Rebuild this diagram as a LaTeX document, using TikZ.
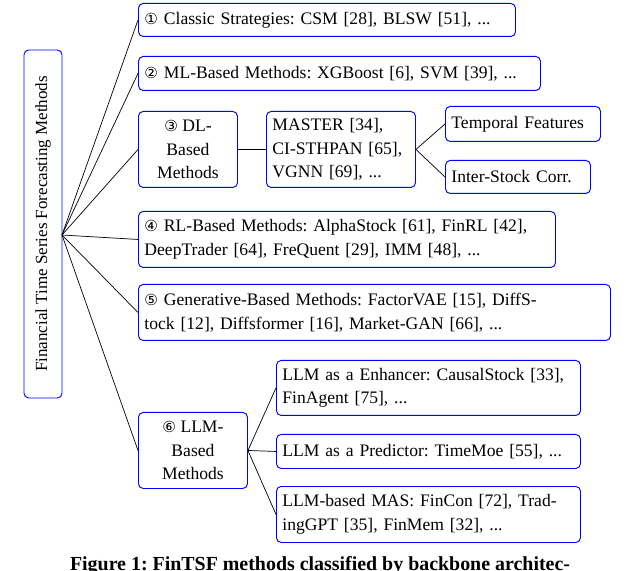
\documentclass[tikz,border=0pt]{standalone}
\usepackage{fontspec}
\setmainfont{Liberation Serif}
\newfontfamily\circfont{DejaVu Sans}
\newcommand{\cnum}[1]{{\circfont\fontsize{13}{15}\selectfont #1}}
\frenchspacing
\begin{document}
\begin{tikzpicture}[x=0.03cm,y=-0.03cm,
  box/.style={draw=blue, thick, rounded corners=4pt, inner sep=0pt,
    font=\fontsize{15}{20}\selectfont, anchor=north west},
  ctr/.style={align=center},
  lft/.style={align=left, text width=(#1-12)*0.03cm, minimum width=#1*0.03cm},
  link/.style={semithick}]
\useasboundingbox (0,0) rectangle (640,571);
% root
\node[box, anchor=center, rotate=90, minimum width=348*0.03cm, minimum height=38*0.03cm,
  font=\fontsize{14.5}{16}\selectfont] (root) at (43,224) {Financial Time Series Forecasting Methods};
\coordinate (hub) at (62,235);
% level 1
\node[box, lft=377, minimum height=33*0.03cm] (c1) at (138,3)
  {\cnum{①} Classic Strategies: CSM [28], BLSW [51], ...};
\node[box, lft=402, minimum height=34*0.03cm] (c2) at (138,56)
  {\cnum{②} ML-Based Methods: XGBoost [6], SVM [39], ...};
\node[box, ctr, minimum width=99*0.03cm, minimum height=76*0.03cm] (c3) at (138,111)
  {\cnum{③} DL-\\Based\\Methods};
\node[box, lft=417, minimum height=56*0.03cm] (c4) at (138,211)
  {\cnum{④} RL-Based Methods: AlphaStock [61], FinRL [42],\\DeepTrader [64], FreQuent [29], IMM [48], ...};
\node[box, lft=472, minimum height=56*0.03cm] (c5) at (138,284)
  {\cnum{⑤} Generative-Based Methods: FactorVAE [15], DiffS-\\tock [12], Diffsformer [16], Market-GAN [66], ...};
\node[box, ctr, minimum width=109*0.03cm, minimum height=76*0.03cm] (c6) at (138,412)
  {\cnum{⑥} LLM-\\Based\\Methods};
% DL branch
\node[box, lft=149, minimum height=76*0.03cm] (dl) at (266,111)
  {MASTER [34],\\CI-STHPAN [65],\\VGNN [69], ...};
\node[box, lft=155, minimum height=35*0.03cm] (tf) at (445,106)
  {Temporal Features};
\node[box, lft=145, minimum height=33*0.03cm] (is) at (445,160)
  {Inter-Stock Corr.};
% LLM branch
\node[box, lft=304, minimum height=55*0.03cm] (l1) at (276,360)
  {LLM as a Enhancer: CausalStock [33],\\FinAgent [75], ...};
\node[box, lft=304, minimum height=34*0.03cm] (l2) at (276,434)
  {LLM as a Predictor: TimeMoe [55], ...};
\node[box, lft=304, minimum height=56*0.03cm] (l3) at (276,486)
  {LLM-based MAS: FinCon [72], Trad-\\ingGPT [35], FinMem [32], ...};
% connectors
\foreach \n in {c1,c2,c3,c4,c5,c6} \draw[link] (hub) -- (\n.west);
\draw[link] (c3.east) -- (dl.west);
\draw[link] (dl.east) -- (tf.west);
\draw[link] (dl.east) -- (is.west);
\foreach \n in {l1,l2,l3} \draw[link] (c6.east) -- (\n.west);
% caption (clipped)
\node[anchor=north, font=\fontsize{17}{20}\selectfont\bfseries] (cap) at (320,552)
  {Figure 1: FinTSF methods classified by backbone architec-};
\end{tikzpicture}
\end{document}
